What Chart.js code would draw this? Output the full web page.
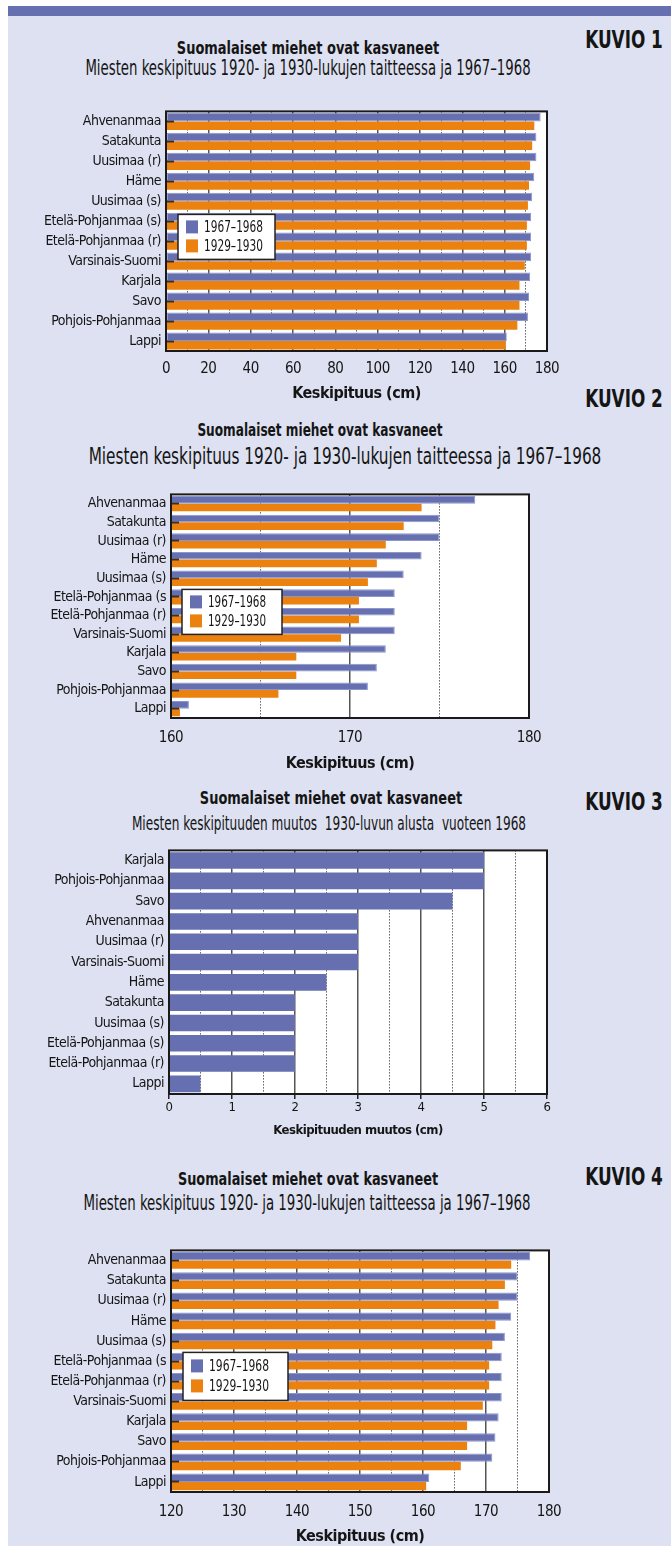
<!DOCTYPE html>
<html>
<head>
<meta charset="utf-8">
<script src="https://cdn.jsdelivr.net/npm/chart.js@4.4.1/dist/chart.umd.min.js"></script>
<style>
  body { margin: 0; width: 671px; height: 1546px; background: #fff; position: relative; overflow: hidden;
         font-family: "Liberation Sans Narrow", "DejaVu Sans Condensed", sans-serif; color: #151515; }
  #bg { position: absolute; left: 8px; top: 16px; right: 0; bottom: 0; background: #dde1f1; }
  #topbar { position: absolute; left: 8px; top: 6px; right: 0; height: 10px; background: #6670b0; }
  .t { position: absolute; white-space: nowrap; line-height: 1; transform: translate(-50%, -50%); }
  .b { font-weight: bold; }
  canvas { position: absolute; left: 0; }
</style>
</head>
<body>
<div id="bg"></div>
<div id="topbar"></div>

<div class="t b" style="left:624px;top:39px;font-size:25px" data-w="78">KUVIO 1</div>
<div class="t b" style="left:308px;top:48px;font-size:17px" data-w="262">Suomalaiset miehet ovat kasvaneet</div>
<div class="t" style="left:308px;top:68px;font-size:21px" data-w="445">Miesten keskipituus 1920- ja 1930-lukujen taitteessa ja 1967–1968</div>

<div class="t b" style="left:624px;top:398px;font-size:25px" data-w="78">KUVIO 2</div>
<div class="t b" style="left:320px;top:430px;font-size:17px" data-w="245">Suomalaiset miehet ovat kasvaneet</div>
<div class="t" style="left:345px;top:456px;font-size:23px" data-w="513">Miesten keskipituus 1920- ja 1930-lukujen taitteessa ja 1967–1968</div>

<div class="t b" style="left:624px;top:801px;font-size:25px" data-w="78">KUVIO 3</div>
<div class="t b" style="left:331px;top:798px;font-size:17px" data-w="262">Suomalaiset miehet ovat kasvaneet</div>
<div class="t" style="left:329px;top:823px;font-size:20px" data-w="394">Miesten keskipituuden muutos &nbsp;1930-luvun alusta &nbsp;vuoteen 1968</div>

<div class="t b" style="left:624px;top:1176px;font-size:25px" data-w="78">KUVIO 4</div>
<div class="t b" style="left:308px;top:1179px;font-size:17px" data-w="260">Suomalaiset miehet ovat kasvaneet</div>
<div class="t" style="left:307px;top:1203px;font-size:21px" data-w="447">Miesten keskipituus 1920- ja 1930-lukujen taitteessa ja 1967–1968</div>

<canvas id="kuvio1" width="671" height="321" style="top:90px"></canvas>
<canvas id="kuvio2" width="671" height="308" style="top:473px"></canvas>
<canvas id="kuvio3" width="671" height="308" style="top:837px"></canvas>
<canvas id="kuvio4" width="671" height="317" style="top:1229px"></canvas>

<script>
// Data
const regions = ['Ahvenanmaa', 'Satakunta', 'Uusimaa (r)', 'Häme', 'Uusimaa (s)', 'Etelä-Pohjanmaa (s)',
  'Etelä-Pohjanmaa (r)', 'Varsinais-Suomi', 'Karjala', 'Savo', 'Pohjois-Pohjanmaa', 'Lappi'];
// charts 2 and 4 have the label cut short
const regionsShort = ['Ahvenanmaa', 'Satakunta', 'Uusimaa (r)', 'Häme', 'Uusimaa (s)', 'Etelä-Pohjanmaa (s',
  'Etelä-Pohjanmaa (r)', 'Varsinais-Suomi', 'Karjala', 'Savo', 'Pohjois-Pohjanmaa', 'Lappi'];
const height1968 = [177, 175, 175, 174, 173, 172.5, 172.5, 172.5, 172, 171.5, 171, 161];
const height1930 = [174, 173, 172, 171.5, 171, 170.5, 170.5, 169.5, 167, 167, 166, 160.5];

const changeRegions = ['Karjala', 'Pohjois-Pohjanmaa', 'Savo', 'Ahvenanmaa', 'Uusimaa (r)', 'Varsinais-Suomi',
  'Häme', 'Satakunta', 'Uusimaa (s)', 'Etelä-Pohjanmaa (s)', 'Etelä-Pohjanmaa (r)', 'Lappi'];
const changeValues = [5, 5, 4.5, 3, 3, 3, 2.5, 2, 2, 2, 2, 0.5];

const seriesLabels = ['1967–1968', '1929–1930'];
const xTitleHeight = 'Keskipituus (cm)';
const xTitleChange = 'Keskipituuden muutos (cm)';

const FONT = "'Liberation Sans Narrow', 'DejaVu Sans Condensed', sans-serif";
const BLUE = '#6670b0';
const ORANGE = '#eb8210';
Chart.defaults.font.family = FONT;
Chart.defaults.color = '#151515';

// squeeze html titles to the width they have in the picture
document.querySelectorAll('.t').forEach(el => {
  const s = el.dataset.w / el.offsetWidth;
  el.style.transform = 'translate(-50%, -50%) scaleX(' + s + ')';
});

// white plot background + black frame, tighter letters for the axis text
const plotFrame = {
  id: 'plotFrame',
  beforeDraw(chart) {
    const a = chart.chartArea, ctx = chart.ctx;
    ctx.save();
    ctx.fillStyle = '#fff';
    ctx.fillRect(a.left, a.top, a.right - a.left, a.bottom - a.top);
    ctx.restore();
    ctx.letterSpacing = '-0.5px';
  },
  afterDraw(chart) {
    const a = chart.chartArea, ctx = chart.ctx;
    ctx.letterSpacing = '0px';
    ctx.save();
    ctx.strokeStyle = '#1a1a1a';
    ctx.lineWidth = 2;
    ctx.strokeRect(a.left, a.top, a.right - a.left, a.bottom - a.top);
    ctx.restore();
  }
};

// legend box sitting inside the plot
const boxLegend = {
  id: 'boxLegend',
  afterDraw(chart, args, opts) {
    if (!opts.show) return;
    const a = chart.chartArea, ctx = chart.ctx;
    const x = a.left + opts.left, y = a.top + opts.top;
    ctx.save();
    ctx.fillStyle = '#fff';
    ctx.fillRect(x, y, opts.width, opts.height);
    ctx.strokeStyle = '#222';
    ctx.lineWidth = 1.5;
    ctx.strokeRect(x, y, opts.width, opts.height);
    chart.data.datasets.forEach((ds, i) => {
      const sy = y + opts.pad + i * opts.step;
      ctx.fillStyle = ds.backgroundColor;
      ctx.fillRect(x + 8, sy, 12, 13);
      ctx.save();
      ctx.fillStyle = '#151515';
      ctx.font = '16px ' + FONT;
      ctx.textBaseline = 'middle';
      const w = ctx.measureText(ds.label).width;
      ctx.translate(x + 26, sy + 7);
      ctx.scale(Math.min(1, opts.textW / w), 1);
      ctx.fillText(ds.label, 0, 0);
      ctx.restore();
    });
    ctx.restore();
  }
};

const makeChart = (id, c) => {
  const ctx = document.getElementById(id).getContext('2d');
  return new Chart(ctx, {
    type: 'bar',
    plugins: [plotFrame, boxLegend],
    data: { labels: c.labels, datasets: c.datasets },
    options: {
      indexAxis: 'y',
      responsive: false,
      animation: false,
      layout: { padding: { top: 10, left: 0, right: 671 - c.plotRight, bottom: 0 } },
      plugins: {
        legend: { display: false },
        tooltip: { enabled: false },
        boxLegend: c.legend || { show: false }
      },
      datasets: { bar: { categoryPercentage: c.catPct, barPercentage: 1 } },
      scales: {
        y: {
          ticks: { font: { size: 14 }, padding: c.yDash ? 13 : 5, color: '#151515', autoSkip: false },
          grid: { drawOnChartArea: false, offset: false, drawTicks: c.yDash, tickLength: -8,
                  tickColor: '#3b3026', tickWidth: 2, z: 1 },
          border: { display: false },
          afterFit: s => { s.width = c.plotLeft; }
        },
        x: {
          type: 'linear', position: 'bottom', min: c.min, max: c.max,
          ticks: { stepSize: c.major, font: { size: c.tickSize }, padding: c.tickPad, color: '#151515' },
          grid: { color: '#555', lineWidth: 1.5, drawTicks: c.xTicks, tickLength: 5, tickColor: '#222' },
          border: { display: false },
          title: { display: true, text: c.title, font: { size: c.titleSize, weight: 'bold' },
                   padding: { top: 0, bottom: c.titlePad }, color: '#151515' },
          afterFit: s => { s.height = c.xHeight; }
        },
        xMinor: {
          type: 'linear', position: 'bottom', min: c.min, max: c.max,
          ticks: { display: false, stepSize: c.minor },
          grid: {
            lineWidth: 1, drawTicks: false,
            color: g => (g.tick && Math.abs(g.tick.value / c.major - Math.round(g.tick.value / c.major)) < 1e-6)
              ? 'rgba(0,0,0,0)' : '#111'
          },
          border: { display: false, dash: [1, 2] },
          afterFit: s => { s.height = 0; }
        }
      }
    }
  });
};

const pairSets = () => [
  { label: seriesLabels[0], data: height1968, backgroundColor: BLUE, borderColor: '#8d95cf', borderWidth: 1, borderSkipped: false },
  { label: seriesLabels[1], data: height1930, backgroundColor: ORANGE, borderWidth: 0 }
];

// KUVIO 1
makeChart('kuvio1', {
  labels: regions, datasets: pairSets(),
  min: 0, max: 180, major: 20, minor: 10,
  plotLeft: 166, plotRight: 547, xHeight: 60, catPct: 0.86,
  tickSize: 15, tickPad: 9, title: xTitleHeight, titleSize: 16, titlePad: 8,
  yDash: true, xTicks: false,
  legend: { show: true, left: 12, top: 103, width: 97, height: 45, pad: 6, step: 19, textW: 59 }
});

// KUVIO 2
makeChart('kuvio2', {
  labels: regionsShort, datasets: pairSets(),
  min: 160, max: 180, major: 10, minor: 5,
  plotLeft: 171, plotRight: 529, xHeight: 63, catPct: 0.82,
  tickSize: 15, tickPad: 11, title: xTitleHeight, titleSize: 16, titlePad: 8,
  yDash: true, xTicks: false,
  legend: { show: true, left: 11, top: 95, width: 100, height: 45, pad: 6, step: 19, textW: 58 }
});

// KUVIO 3
makeChart('kuvio3', {
  labels: changeRegions,
  datasets: [{ label: 'Muutos', data: changeValues, backgroundColor: BLUE, borderWidth: 0 }],
  min: 0, max: 6, major: 1, minor: 0.5,
  plotLeft: 169, plotRight: 547, xHeight: 51, catPct: 0.82,
  tickSize: 13, tickPad: 1, title: xTitleChange, titleSize: 13, titlePad: 7,
  yDash: false, xTicks: true
});

// KUVIO 4
makeChart('kuvio4', {
  labels: regionsShort, datasets: pairSets(),
  min: 120, max: 180, major: 10, minor: 5,
  plotLeft: 171, plotRight: 549, xHeight: 54, catPct: 0.83,
  tickSize: 15, tickPad: 11, title: xTitleHeight, titleSize: 16, titlePad: 0,
  yDash: true, xTicks: false,
  legend: { show: true, left: 12, top: 102, width: 105, height: 48, pad: 7, step: 20, textW: 60 }
});
</script>
</body>
</html>
